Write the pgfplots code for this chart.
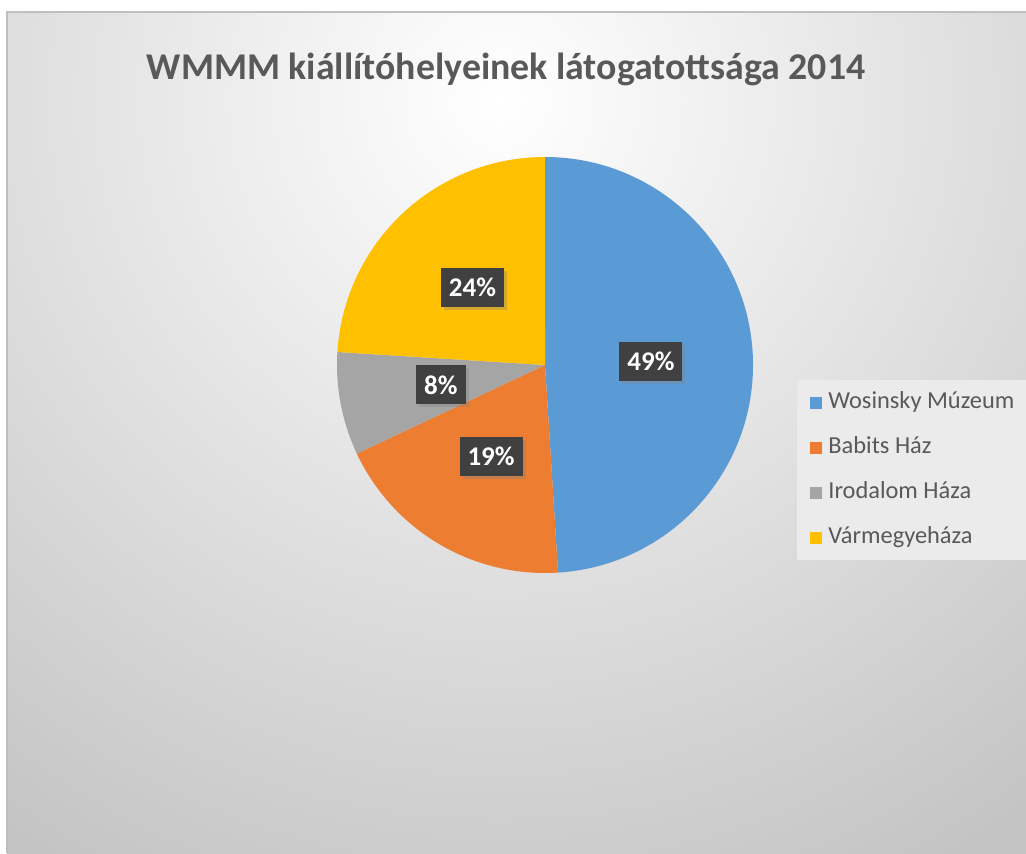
\documentclass[border=0pt]{standalone}
\usepackage{fontspec}
\setmainfont{Carlito}
\usepackage{pgfplots}
\usepackage{pgfplotstable}
\pgfplotsset{compat=1.18}
\usetikzlibrary{shadows}
\definecolor{wblue}{HTML}{5B9BD5}
\definecolor{worange}{HTML}{ED7D31}
\definecolor{wgray}{HTML}{A5A5A5}
\definecolor{wgold}{HTML}{FFC000}
\definecolor{txtgray}{HTML}{595959}
\definecolor{lblbg}{HTML}{404040}
\definecolor{bgouter}{HTML}{C4C4C4}
\definecolor{framegray}{HTML}{BFBFBF}
\definecolor{legbg}{HTML}{EBEBEB}

% white near the title, grey towards the corners
\pgfdeclareradialshading{bgshade}{\pgfpointorigin}{%
  color(0bp)=(white); color(18.3bp)=(bgouter); color(25bp)=(bgouter); color(50bp)=(bgouter)}

\tikzset{lbl/.style={fill=lblbg, text=white,
    font=\bfseries\fontsize{13.5}{16}\selectfont,
    inner xsep=4pt, inner ysep=0pt, minimum height=19.5pt,
    drop shadow={shadow xshift=1.5pt, shadow yshift=-1.5pt, opacity=0.35}}}

% share of visitors per site (percent)
\pgfplotstableread{
name value
Wosinsky 49
Babits 19
Irodalom 8
Varmegye 24
}\piedata

\pgfplotstablegetelem{0}{value}\of\piedata\edef\vA{\pgfplotsretval}
\pgfplotstablegetelem{1}{value}\of\piedata\edef\vB{\pgfplotsretval}
\pgfplotstablegetelem{2}{value}\of\piedata\edef\vC{\pgfplotsretval}
\pgfplotstablegetelem{3}{value}\of\piedata\edef\vD{\pgfplotsretval}
\pgfmathsetmacro\tot{\vA+\vB+\vC+\vD}
\pgfmathsetmacro\aA{90}
\pgfmathsetmacro\aB{\aA-360*(\vA/\tot)}
\pgfmathsetmacro\aC{\aB-360*(\vB/\tot)}
\pgfmathsetmacro\aD{\aC-360*(\vC/\tot)}
\pgfmathsetmacro\aE{\aD-360*(\vD/\tot)}
\pgfmathsetmacro\mA{(\aA+\aB)/2}
\pgfmathsetmacro\mB{(\aB+\aC)/2}
\pgfmathsetmacro\mC{(\aC+\aD)/2}
\pgfmathsetmacro\mD{(\aD+\aE)/2}
\def\R{104pt}
\newcommand\slice[3]{\fill[#3] (axis cs:545,488) -- ++(#1:\R) arc[start angle=#1, end angle=#2, radius=\R] -- cycle;}

\begin{document}
\begin{tikzpicture}
\begin{axis}[
  x=0.5pt, y=0.5pt,
  xmin=0, xmax=1026, ymin=0, ymax=853,
  hide axis, ticks=none,
  legend style={
    at={(axis cs:797,473)}, anchor=north west,
    draw=none, fill=legbg,
    font=\fontsize{12.2}{14}\selectfont, text=txtgray,
    nodes={inner sep=0pt, text height=8pt, text depth=2.5pt},
    row sep=12pt, column sep=3pt,
    inner xsep=6.5pt, inner ysep=6pt,
  },
  legend cell align=left,
  legend image code/.code={\fill[#1, draw=none] (0pt,-3pt) rectangle (6pt,3pt);},
]
\coordinate (pagebl) at (axis cs:0,0);
\coordinate (pagetr) at (axis cs:1026,853);
\fill[white] (axis cs:0,0) rectangle (axis cs:1026,853);
\begin{scope}
  \clip (axis cs:7,0) rectangle (axis cs:1026,841);
  \shade[overlay, shading=bgshade] (axis cs:500,753) circle[radius=600pt];
\end{scope}
\draw[framegray, line width=1pt] (axis cs:7,0) -- (axis cs:7,841) -- (axis cs:1026,841);

\node[font=\bfseries\fontsize{18.9}{22}\selectfont, text=txtgray] at (axis cs:506,784) {WMMM kiállítóhelyeinek látogatottsága 2014};

\slice{\aA}{\aB}{wblue}
\slice{\aB}{\aC}{worange}
\slice{\aC}{\aD}{wgray}
\slice{\aD}{\aE}{wgold}

\path (axis cs:545,488) ++(\mA:53pt) node[lbl] {\vA\%};
\path (axis cs:545,488) ++(\mB:53pt) node[lbl] {\vB\%};
\path (axis cs:545,488) ++(\mC:53pt) node[lbl] {\vC\%};
\path (axis cs:545,488) ++(\mD:53pt) node[lbl] {\vD\%};

\addlegendimage{fill=wblue, draw=none}
\addlegendimage{fill=worange, draw=none}
\addlegendimage{fill=wgray, draw=none}
\addlegendimage{fill=wgold, draw=none}
\legend{Wosinsky Múzeum, Babits Ház, Irodalom Háza, Vármegyeháza}
\end{axis}
\pgfresetboundingbox
\useasboundingbox (pagebl) rectangle (pagetr);
\end{tikzpicture}
\end{document}
